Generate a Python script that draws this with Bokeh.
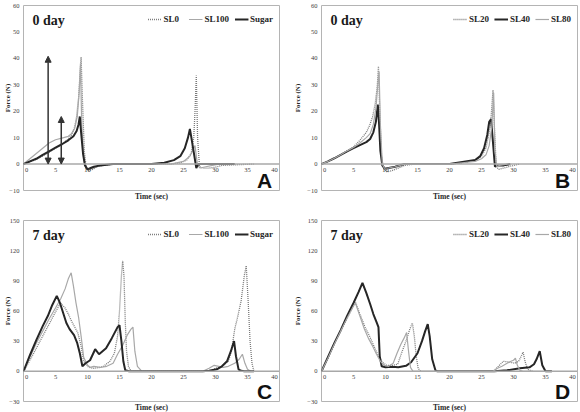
from bokeh.plotting import figure
from bokeh.models import (Range1d, FixedTicker, Span, Label, LabelSet, ColumnDataSource,
                          Legend, LegendItem, Arrow, NormalHead)
from bokeh.layouts import gridplot
from bokeh.embed import file_html
from bokeh.resources import INLINE

# ---------------- data ----------------
x_ticks = [0, 5, 10, 15, 20, 25, 30, 35, 40]
x_tick_nudge = [3, 0, 0, 0, 0, 0, 0, 0, -5]
y_ticks_0day = [-10, 0, 10, 20, 30, 40, 50, 60]
y_ticks_7day = [-30, 0, 30, 60, 90, 120, 150]

# Panel A : 0 day, SL0 / SL100 / Sugar
A_SL0_x = [0, 1, 2, 3, 4, 5, 6, 7, 7.5, 8, 8.3, 8.6, 8.8, 9.0, 9.2, 9.5, 9.8, 10.2, 10.8, 11.5, 12.5, 14, 20, 23, 24.5, 25.5, 26.2, 26.6, 26.8, 27.0, 27.2, 27.5, 28, 29, 30, 31, 36]
A_SL0_y = [0, 0.8, 1.8, 3, 4.5, 6, 7.5, 9.5, 11, 14, 18, 25, 33, 40.5, 25, 5, -1.5, -2.5, -2, -1, -0.5, 0, 0, 0, 0.5, 1.5, 4, 10, 20, 33.5, 10, -1, -1.5, -1.5, -1.2, -0.5, 0]
A_SL100_x = [0, 1, 2, 3, 4, 5, 6, 7, 7.5, 8, 8.4, 8.7, 8.9, 9.1, 9.4, 9.8, 10.3, 11, 12, 14, 20, 23, 25, 26, 26.5, 26.8, 27.0, 27.2, 27.6, 28.5, 29.5, 30.5]
A_SL100_y = [0, 2, 4, 6, 8, 9.2, 9.8, 10.5, 11.5, 13.5, 18, 27, 38, 15, 2, -1.5, -2, -1.5, -0.5, 0, 0, 0, 1, 3, 5.5, 7, 3, -0.5, -1.5, -1, -0.5, 0]
A_Sugar_x = [0, 1, 2, 3, 4, 5, 6, 7, 7.8, 8.3, 8.6, 8.8, 9.0, 9.3, 9.6, 10, 10.5, 11, 12, 14, 20, 22, 23.5, 24.5, 25.2, 25.7, 26.0, 26.3, 26.7, 27.0, 27.3, 27.7, 28.5, 33]
A_Sugar_y = [0, 1, 2, 3.5, 4.8, 6.2, 7.5, 9, 10.5, 12.5, 15, 18, 12, 4, -0.5, -2, -1.5, -1, -0.5, 0, 0, 0.5, 1.5, 3, 6, 10, 13.3, 9, 3, -1.5, 0, 0, 0, 0]
A_arrow_x = [3.85, 5.9]
A_arrow_bottom = [0, 0]
A_arrow_top = [40.8, 18]

# Panel B : 0 day, SL20 / SL40 / SL80
B_SL20_x = [0, 1, 2, 3, 4, 5, 6, 7, 7.5, 8, 8.4, 8.7, 8.9, 9.1, 9.4, 9.8, 10.3, 11, 12, 13, 14.5, 20, 22, 24, 25, 25.7, 26.2, 26.5, 26.8, 27.0, 27.3, 27.7, 28.5, 29.5, 31]
B_SL20_y = [0, 1, 2.2, 3.5, 5, 6.5, 9, 12, 14.5, 18, 23, 29, 37, 20, 2, -2, -3, -2.5, -1.5, -0.5, 0, 0, 0.5, 1.5, 3, 6, 12, 18, 28, 15, -1, -2, -1.5, -0.8, 0]
B_SL40_x = [0, 1, 2, 3, 4, 5, 6, 7, 7.6, 8.1, 8.5, 8.8, 9.0, 9.2, 9.5, 9.9, 10.5, 11.5, 13, 20, 22, 24, 24.8, 25.4, 25.9, 26.2, 26.5, 26.8, 27.1, 27.5, 28.5, 29.5]
B_SL40_y = [0, 1, 2.2, 3.5, 4.8, 6, 7.2, 8.3, 9.5, 12, 16, 22.5, 15, 5, -0.5, -1.8, -1.5, -1, 0, 0, 0.8, 1.5, 3, 6, 11, 16, 17, 8, -1, -0.5, -0.5, 0]
B_SL80_x = [0, 1, 2, 3, 4, 5, 6, 7, 7.6, 8.1, 8.5, 8.8, 9.0, 9.2, 9.5, 9.9, 10.5, 11.5, 13, 20, 22, 24, 25, 25.7, 26.2, 26.6, 26.9, 27.1, 27.4, 27.8, 29]
B_SL80_y = [0, 1, 2.2, 3.5, 5, 6.3, 8, 10, 11.5, 15, 21, 30, 35, 15, 0, -2, -1.5, -1, 0, 0, 0.5, 1, 2, 3.5, 7, 14, 27, 5, -1, -0.5, 0]

# Panel C : 7 day, SL0 / SL100 / Sugar
C_SL0_x = [0, 1, 2, 3, 4, 5, 5.8, 6.5, 7.0, 7.5, 8.0, 8.5, 9.0, 9.4, 10.2, 11, 12, 12.5, 13.5, 14.2, 14.7, 15.0, 15.3, 15.5, 15.7, 15.9, 16.1, 16.4, 16.8, 20, 29, 30, 31, 32, 32.5, 33.0, 33.5, 34.0, 34.5, 34.8, 35.1, 35.4, 35.7, 36.0]
C_SL0_y = [0, 11, 23, 35, 47, 59, 68, 63, 57, 50, 44, 38, 25, 10, 4, 3, 4, 5, 10, 18, 35, 60, 95, 110, 95, 50, 20, 5, 0, 0, 0, 3, 5, 10, 20, 42, 55, 70, 95, 105, 70, 30, 8, 0]
C_SL100_x = [0, 1, 2, 3, 4, 5, 5.8, 6.5, 7.0, 7.45, 7.8, 8.2, 8.6, 9.0, 9.4, 10, 10.4, 11, 12, 13, 14, 14.7, 15.5, 16.2, 16.8, 17.1, 17.4, 17.8, 18.5, 20, 28, 29, 29.8, 30.5, 31.2, 32, 33, 33.7, 34.2, 34.6, 35.0, 35.5]
C_SL100_y = [0, 14, 28, 40, 52, 63, 72, 82, 92, 98, 85, 68, 54, 35, 14, 6, 4, 5, 4, 5, 8, 17, 26, 36, 42, 44, 20, 5, 0, 0, 0, 3, 6, 5, 4, 5, 8, 12, 17, 8, 2, 0]
C_Sugar_x = [0, 1, 2, 3, 3.8, 4.5, 5.2, 5.7, 6.2, 6.7, 7.2, 7.9, 8.4, 8.8, 9.2, 9.7, 10.4, 11.2, 11.8, 12.9, 13.8, 14.7, 15.0, 15.3, 15.6, 15.9, 16.5, 20, 28, 29, 30.2, 31.0, 31.8, 32.4, 32.9, 33.2, 33.6, 34, 34.5, 36]
C_Sugar_y = [0, 16, 31, 45, 55, 66, 75, 68, 58, 48, 42, 36, 28, 18, 5, 8, 11, 22, 17, 23, 33, 44, 46, 30, 10, 1, 0, 0, 0, 0.5, 2, 5, 10, 20, 30, 15, 2, 0.5, 0, 0]

# Panel D : 7 day, SL20 / SL40 / SL80
D_SL20_x = [0, 1, 2, 3, 4, 5, 5.3, 6, 6.8, 7.5, 8.2, 8.9, 9.5, 10.2, 11, 11.9, 12.5, 13.2, 13.8, 14.2, 14.5, 14.8, 15.1, 15.5, 20, 26.8, 27.5, 28.4, 29.5, 30.2, 30.8, 31.2, 31.5, 31.8, 32.2, 33, 35]
D_SL20_y = [0, 13, 27, 40, 53, 65, 69, 57, 44, 35, 25, 15, 9, 6, 6, 7, 18, 30, 42, 48, 35, 15, 3, 0, 0, 0, 4, 10, 9, 8, 10, 15, 19, 10, 2, 0, 0]
D_SL40_x = [0, 1, 2, 3, 4, 5, 5.8, 6.4, 7.0, 7.6, 8.1, 8.6, 8.9, 9.1, 9.4, 10, 11, 12, 13.2, 14, 15, 15.7, 16.2, 16.6, 16.9, 17.3, 17.8, 18.1, 20, 27, 29, 31, 32.5, 33.2, 33.6, 34.1, 34.5, 35.0, 36]
D_SL40_y = [0, 14, 28, 41, 55, 68, 79, 88, 78, 67, 57, 49, 44, 15, 5, 4, 4.5, 4, 5.5, 9, 18, 30, 40, 47, 35, 12, 1, 0, 0, 0, 1, 3, 4, 7, 12, 20, 6, 0, 0]
D_SL80_x = [0, 1, 2, 3, 4, 5, 5.3, 6, 6.7, 7.4, 8.0, 8.6, 9.2, 9.8, 10.5, 11.2, 11.8, 12.4, 12.9, 13.3, 13.6, 13.9, 14.3, 20, 26.8, 27.5, 28.2, 29, 29.6, 30.0, 30.3, 30.6, 31.0, 31.5, 33]
D_SL80_y = [0, 13, 27, 40, 53, 65, 68, 55, 42, 32, 25, 17, 10, 6, 5, 8, 18, 27, 33, 38.5, 20, 4, 0, 0, 0, 3, 5, 8, 10, 11, 13, 6, 1, 0, 0]

SERIF = "Liberation Serif"
DOT = dict(line_color="#7a7a7a", line_width=1.3, line_dash="1 1")
THIN = dict(line_color="#a8a8a8", line_width=1.2)
THICK = dict(line_color="#262626", line_width=2.0)

FW = 256


def make_panel(y_lo, y_hi, y_ticks, fh, left, right, top, bottom, label_standoff,
               series, day, letter):
    p = figure(frame_width=FW, frame_height=fh, output_backend="svg", toolbar_location=None,
               x_range=Range1d(0, 40), y_range=Range1d(y_lo, y_hi),
               min_border_left=left, min_border_right=right,
               min_border_top=top, min_border_bottom=bottom)
    p.background_fill_color = "white"
    p.border_fill_color = "white"
    p.outline_line_color = "#b4b4b4"
    p.outline_line_width = 1
    p.xgrid.visible = False
    p.ygrid.visible = False

    xa = p.xaxis[0]
    xa.ticker = FixedTicker(ticks=[])
    xa.axis_line_color = None
    xa.major_tick_line_color = None
    xa.minor_tick_line_color = None
    xa.major_tick_out = 0
    xa.major_tick_in = 0
    xa.major_label_standoff = 0
    xa.axis_label = "Time (sec)"
    xa.axis_label_standoff = 1
    xa.axis_label_text_font = SERIF
    xa.axis_label_text_font_style = "bold"
    xa.axis_label_text_font_size = "7.5px"
    xa.axis_label_text_color = "#262626"

    ya = p.yaxis[0]
    ya.ticker = FixedTicker(ticks=y_ticks)
    ya.axis_line_color = None
    ya.major_tick_line_color = None
    ya.minor_tick_line_color = None
    ya.major_tick_out = 0
    ya.major_tick_in = 0
    ya.major_label_standoff = 4
    ya.major_label_text_font = SERIF
    ya.major_label_text_font_size = "6.5px"
    ya.major_label_text_color = "#404040"
    ya.axis_label = "Force (N)"
    ya.axis_label_standoff = label_standoff
    ya.axis_label_text_font = SERIF
    ya.axis_label_text_font_style = "bold"
    ya.axis_label_text_font_size = "7px"
    ya.axis_label_text_color = "#262626"

    p.add_layout(Span(location=0, dimension="width", line_color="#a8a8a8", line_width=1.5))

    items = []
    for label, xs, ys, style in series:
        r = p.line(xs, ys, **style)
        items.append(LegendItem(label=label, renderers=[r]))

    lg = Legend(items=items, orientation="horizontal", location="top_right",
                margin=6, padding=0, spacing=5, glyph_width=14, glyph_height=16,
                label_height=16, label_standoff=2, border_line_color=None,
                background_fill_alpha=0, label_text_font=SERIF,
                label_text_font_style="bold", label_text_font_size="9px",
                label_text_color="#262626")
    p.add_layout(lg)

    src = ColumnDataSource(dict(x=x_ticks, y=[0] * len(x_ticks), t=[str(v) for v in x_ticks],
                                dx=x_tick_nudge))
    p.add_layout(LabelSet(x="x", y="y", text="t", source=src, x_offset="dx", y_offset=-4,
                          text_align="center", text_baseline="top",
                          text_font=SERIF, text_font_size="6.5px", text_color="#404040"))

    p.add_layout(Label(x=9, y=fh - 15, x_units="screen", y_units="screen", text=day,
                       text_align="left", text_baseline="middle", text_font=SERIF,
                       text_font_style="bold", text_font_size="14px", text_color="#1a1a1a"))
    p.add_layout(Label(x=FW - 15, y=10, x_units="screen", y_units="screen", text=letter,
                       text_align="center", text_baseline="middle", text_font="Liberation Sans",
                       text_font_style="bold", text_font_size="21px", text_color="#111111"))
    return p


pa = make_panel(-10, 60, y_ticks_0day, 185, 23, 11, 5, 16, -6,
                [("SL0", A_SL0_x, A_SL0_y, DOT), ("SL100", A_SL100_x, A_SL100_y, THIN),
                 ("Sugar", A_Sugar_x, A_Sugar_y, THICK)], "0 day", "A")
arrow_src = ColumnDataSource(dict(x0=A_arrow_x, y0=A_arrow_bottom, x1=A_arrow_x, y1=A_arrow_top))
pa.add_layout(Arrow(x_start="x0", y_start="y0", x_end="x1", y_end="y1", source=arrow_src,
                    line_color="#333333", line_width=1.5,
                    start=NormalHead(size=6, fill_color="#333333", line_color="#333333"),
                    end=NormalHead(size=6, fill_color="#333333", line_color="#333333")))

pb = make_panel(-10, 60, y_ticks_0day, 185, 31, 3, 5, 16, 2,
                [("SL20", B_SL20_x, B_SL20_y, DOT), ("SL40", B_SL40_x, B_SL40_y, THICK),
                 ("SL80", B_SL80_x, B_SL80_y, THIN)], "0 day", "B")
pc = make_panel(-30, 150, y_ticks_7day, 181, 23, 11, 14, 11, -6,
                [("SL0", C_SL0_x, C_SL0_y, DOT), ("SL100", C_SL100_x, C_SL100_y, THIN),
                 ("Sugar", C_Sugar_x, C_Sugar_y, THICK)], "7 day", "C")
pd_ = make_panel(-30, 150, y_ticks_7day, 181, 31, 3, 14, 11, 2,
                 [("SL20", D_SL20_x, D_SL20_y, DOT), ("SL40", D_SL40_x, D_SL40_y, THICK),
                  ("SL80", D_SL80_x, D_SL80_y, THIN)], "7 day", "D")

grid = gridplot([[pa, pb], [pc, pd_]], toolbar_location=None)

open("out.html", "w").write(file_html(grid, INLINE))
